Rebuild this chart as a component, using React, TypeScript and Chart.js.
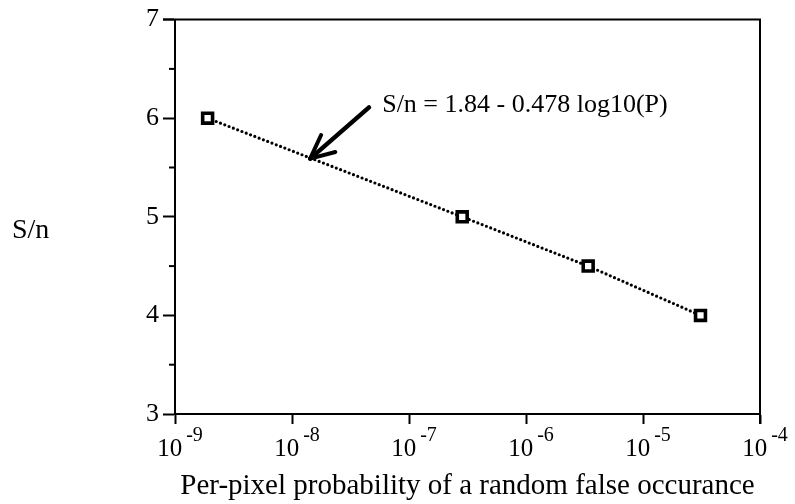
import React, { useEffect, useRef } from 'react';
import { Chart, registerables } from 'chart.js';

Chart.register(...registerables);

// ---- data ----
const probabilities = [1.9e-9, 2.85e-7, 3.4e-6, 3.1e-5];
const snValues = [6.0, 5.0, 4.5, 4.0];
const xTickExponents = [-9, -8, -7, -6, -5, -4];
const yMinorTicks = [3.5, 4.5, 5.5, 6.5];
const yTitle = 'S/n';
const xTitle = 'Per-pixel probability of a random false occurance';
const fitLabel = 'S/n = 1.84 - 0.478 log10(P)';
const labelAnchor = { x: 5.9e-8, y: 6.13 };
const arrowStart = { x: 4.55e-8, y: 6.11 };
const arrowTip = { x: 1.43e-8, y: 5.59 };

const FONT = '"Liberation Serif", "Times New Roman", serif';

const decorPlugin = {
  id: 'decor',
  afterDraw(chart: any) {
    const { ctx, chartArea: a, scales } = chart;
    const xs = scales.x;
    const ys = scales.y;
    ctx.save();
    ctx.strokeStyle = '#000';
    ctx.fillStyle = '#000';
    // frame (top and right)
    ctx.lineWidth = 2;
    ctx.beginPath();
    ctx.moveTo(a.left - 12, a.top);
    ctx.lineTo(a.right, a.top);
    ctx.lineTo(a.right, a.bottom + 10);
    ctx.stroke();
    // minor y ticks
    for (const v of yMinorTicks) {
      const py = ys.getPixelForValue(v);
      ctx.beginPath();
      ctx.moveTo(a.left - 6, py);
      ctx.lineTo(a.left, py);
      ctx.stroke();
    }
    // x tick labels with superscripts
    for (const e of xTickExponents) {
      const px = xs.getPixelForValue(Math.pow(10, e));
      ctx.font = `25px ${FONT}`;
      const base = '10';
      const wb = ctx.measureText(base).width;
      ctx.font = `20px ${FONT}`;
      const sup = String(e);
      const ws = ctx.measureText(sup).width;
      const gap = 4;
      const total = wb + gap + ws;
      const start = px - total / 2 + 5;
      ctx.textAlign = 'left';
      ctx.textBaseline = 'alphabetic';
      ctx.font = `25px ${FONT}`;
      ctx.fillText(base, start, a.bottom + 42);
      ctx.font = `20px ${FONT}`;
      ctx.fillText(sup, start + wb + gap, a.bottom + 27);
    }
    // y title
    ctx.font = `28px ${FONT}`;
    ctx.textAlign = 'left';
    ctx.textBaseline = 'middle';
    ctx.fillText(yTitle, 12, (a.top + a.bottom) / 2 + 14);
    // annotation text
    ctx.font = `26px ${FONT}`;
    ctx.fillText(fitLabel, xs.getPixelForValue(labelAnchor.x), ys.getPixelForValue(labelAnchor.y));
    // arrow
    const sx = xs.getPixelForValue(arrowStart.x);
    const sy = ys.getPixelForValue(arrowStart.y);
    const tx = xs.getPixelForValue(arrowTip.x);
    const ty = ys.getPixelForValue(arrowTip.y);
    const ang = Math.atan2(sy - ty, sx - tx);
    ctx.lineCap = 'round';
    ctx.lineWidth = 4.5;
    ctx.beginPath();
    ctx.moveTo(sx, sy);
    ctx.lineTo(tx, ty);
    ctx.stroke();
    ctx.lineWidth = 4;
    const len = 26;
    for (const d of [-0.42, 0.46]) {
      ctx.beginPath();
      ctx.moveTo(tx, ty);
      ctx.lineTo(tx + len * Math.cos(ang + d), ty + len * Math.sin(ang + d));
      ctx.stroke();
    }
    ctx.restore();
  },
};

export default function App() {
  const ref = useRef<HTMLCanvasElement | null>(null);
  useEffect(() => {
    document.body.style.margin = '0';
    const canvas = ref.current;
    if (!canvas) return;
    const chart = new Chart(canvas, {
      type: 'line',
      data: {
        datasets: [
          {
            data: probabilities.map((p, i) => ({ x: p, y: snValues[i] })),
            borderColor: '#000',
            borderWidth: 3.2,
            borderDash: [0, 4.6],
            borderCapStyle: 'round',
            pointStyle: 'rect',
            pointRadius: 7,
            pointBorderWidth: 3.6,
            pointBackgroundColor: '#fff',
            pointBorderColor: '#000',
            tension: 0,
          },
        ],
      },
      options: {
        responsive: false,
        animation: false,
        events: [],
        layout: { padding: { left: 0, right: 35, top: 16, bottom: 0 } },
        plugins: { legend: { display: false }, tooltip: { enabled: false } },
        scales: {
          x: {
            type: 'logarithmic',
            min: 1e-9,
            max: 1e-4,
            afterBuildTicks: (s: any) => {
              s.ticks = xTickExponents.map((e) => ({ value: Math.pow(10, e) }));
            },
            afterFit: (s: any) => {
              s.height = 90;
            },
            ticks: { display: false },
            grid: {
              drawOnChartArea: false,
              drawTicks: true,
              tickLength: 10,
              tickWidth: 2,
              tickColor: '#000',
            },
            border: { display: true, color: '#000', width: 2 },
            title: {
              display: true,
              text: xTitle,
              color: '#000',
              font: { family: FONT, size: 29 },
              padding: { top: 0, bottom: 0 },
            },
          },
          y: {
            type: 'linear',
            min: 3,
            max: 7,
            afterFit: (s: any) => {
              s.width = 175;
            },
            ticks: {
              stepSize: 1,
              color: '#000',
              font: { family: FONT, size: 26 },
              padding: 4,
            },
            grid: {
              drawOnChartArea: false,
              drawTicks: true,
              tickLength: 12,
              tickWidth: 2,
              tickColor: '#000',
            },
            border: { display: true, color: '#000', width: 2 },
          },
        },
      },
      plugins: [decorPlugin],
    } as any);
    return () => chart.destroy();
  }, []);
  return (
    <div style={{ width: 795, height: 504, background: '#fff' }}>
      <canvas ref={ref} width={795} height={504} style={{ display: 'block' }} />
    </div>
  );
}
